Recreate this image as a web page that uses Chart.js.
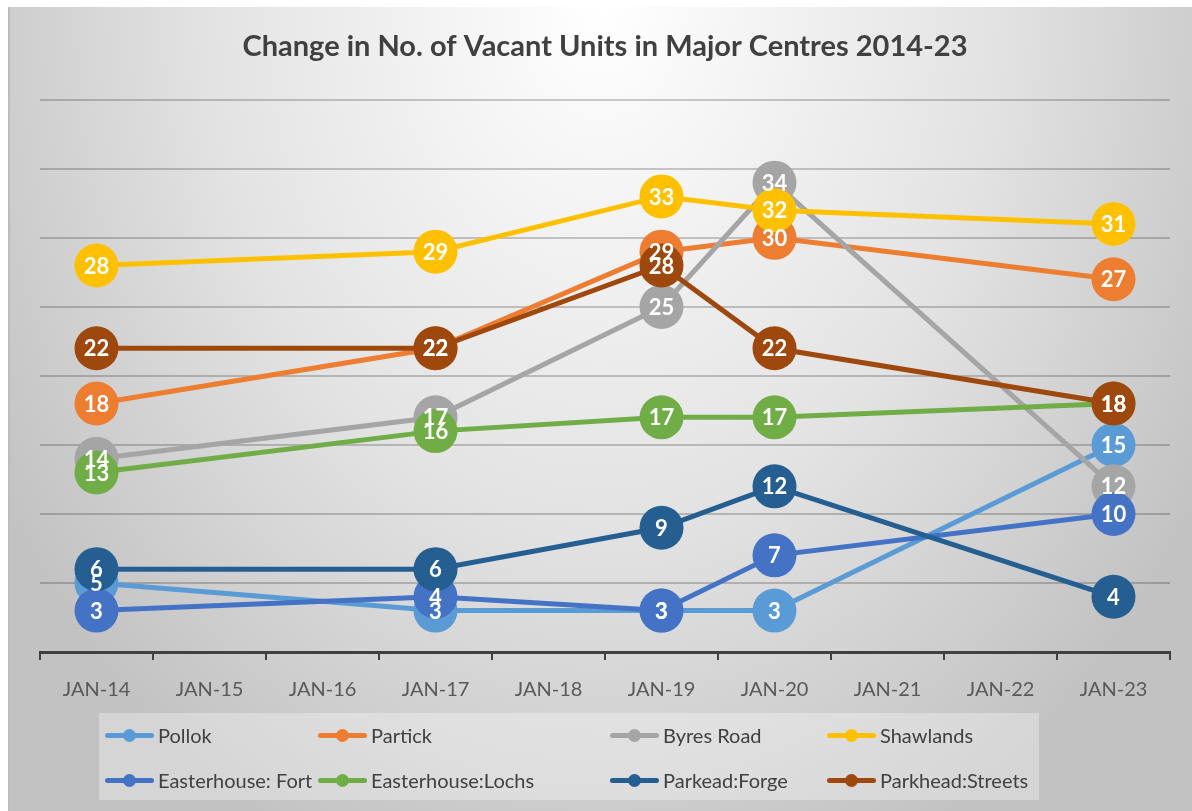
<!DOCTYPE html>
<html>
<head>
<meta charset="utf-8">
<script src="https://cdn.jsdelivr.net/npm/chart.js@4.4.0/dist/chart.umd.min.js"></script>
<style>
  html, body { margin: 0; padding: 0; background: #fff; width: 1192px; height: 811px; overflow: hidden; }
  #frame {
    position: absolute; left: 8px; top: 7px; width: 1182px; height: 810px;
    border-left: 2px solid #bdbdbd;
    background: radial-gradient(ellipse 60% 115% at 50% 0%, #ffffff 0%, #e3e3e3 55%, #c2c2c2 100%);
  }
  #wrap { position: absolute; left: 0; top: 0; width: 1184px; height: 713px; }
  #legend {
    position: absolute; left: 89px; top: 706px; width: 940px; height: 87px;
    background: rgba(255,255,255,0.32);
    font-family: Lato, "Open Sans", sans-serif; font-size: 20px; color: #404040;
  }
  .item { position: absolute; display: flex; align-items: center; white-space: nowrap; }
  .mark { position: relative; width: 49px; height: 5px; border-radius: 3px; margin-right: 4px; }
  .mark i { position: absolute; left: 18px; top: -4px; width: 13px; height: 13px; border-radius: 50%; background: inherit; }
</style>
</head>
<body>
<div id="frame">
  <div id="wrap"><canvas id="chart"></canvas></div>
  <div id="legend"></div>
</div>
<script>
// categories and values (null = no survey that year)
const years = ['JAN-14', 'JAN-15', 'JAN-16', 'JAN-17', 'JAN-18', 'JAN-19', 'JAN-20', 'JAN-21', 'JAN-22', 'JAN-23'];
const pollok          = [5, null, null, 3, null, 3, 3, null, null, 15];
const partick         = [18, null, null, 22, null, 29, 30, null, null, 27];
const byresRoad       = [14, null, null, 17, null, 25, 34, null, null, 12];
const shawlands       = [28, null, null, 29, null, 33, 32, null, null, 31];
const easterhouseFort = [3, null, null, 4, null, 3, 7, null, null, 10];
const easterhouseLoch = [13, null, null, 16, null, 17, 17, null, null, 18];
const parkheadForge   = [6, null, null, 6, null, 9, 12, null, null, 4];
const parkheadStreets = [22, null, null, 22, null, 28, 22, null, null, 18];

const seriesNames  = ['Pollok', 'Partick', 'Byres Road', 'Shawlands', 'Easterhouse: Fort', 'Easterhouse:Lochs', 'Parkead:Forge', 'Parkhead:Streets'];
const seriesValues = [pollok, partick, byresRoad, shawlands, easterhouseFort, easterhouseLoch, parkheadForge, parkheadStreets];
const seriesColors = ['#5B9BD5', '#ED7D31', '#A5A5A5', '#FFC000', '#4472C4', '#70AD47', '#255E91', '#9E480E'];

const datasets = seriesNames.map((name, i) => ({
  label: name,
  data: seriesValues[i],
  borderColor: seriesColors[i],
  backgroundColor: seriesColors[i],
  borderWidth: 5,
  pointRadius: 22,
  pointHoverRadius: 22,
  pointBorderWidth: 0,
  spanGaps: true,
  clip: false,
  order: seriesNames.length - i   // later series drawn on top, like Excel
}));

// white value labels inside each marker, drawn after all markers
const valueLabels = {
  id: 'valueLabels',
  afterDatasetsDraw(chart) {
    const ctx = chart.ctx;
    ctx.save();
    ctx.fillStyle = '#fff';
    ctx.font = 'bold 22px Lato, "Open Sans", sans-serif';
    ctx.textAlign = 'center';
    ctx.textBaseline = 'middle';
    chart.data.datasets.forEach((ds, i) => {
      const meta = chart.getDatasetMeta(i);
      meta.data.forEach((pt, j) => {
        if (ds.data[j] == null) return;
        ctx.fillText(String(ds.data[j]), pt.x, pt.y + 1);
      });
    });
    ctx.restore();
  }
};

new Chart(document.getElementById('chart'), {
  type: 'line',
  data: { labels: years, datasets: datasets },
  plugins: [valueLabels],
  options: {
    responsive: true,
    maintainAspectRatio: false,
    animation: false,
    events: [],
    layout: { padding: { left: 30, right: 24, top: 0, bottom: 0 } },
    plugins: {
      legend: { display: false },
      tooltip: { enabled: false },
      title: {
        display: true,
        text: 'Change in No. of Vacant Units in Major Centres 2014-23',
        color: '#404040',
        font: { family: 'Lato, "Open Sans", sans-serif', size: 29, weight: 'bold' },
        padding: { top: 22, bottom: 36 }
      }
    },
    scales: {
      x: {
        offset: true,
        grid: { display: true, offset: true, drawOnChartArea: false, drawTicks: true, tickLength: 8, color: '#404040', lineWidth: 2 },
        border: { display: true, color: '#404040', width: 3 },
        ticks: { color: '#595959', padding: 18, font: { family: 'Lato, "Open Sans", sans-serif', size: 20 } }
      },
      y: {
        min: 0,
        max: 40,
        ticks: { display: false, stepSize: 5 },
        grid: { color: 'rgba(0,0,0,0.2)', lineWidth: 2, drawTicks: false, tickLength: 0 },
        border: { display: false }
      }
    }
  }
});

// legend laid out in Excel-style columns
const legendCols = [6, 219, 511, 728];
const legendRows = [22, 67];
const legendBox = document.getElementById('legend');
seriesNames.forEach((name, i) => {
  const el = document.createElement('div');
  el.className = 'item';
  el.style.left = legendCols[i % 4] + 'px';
  el.style.top = (legendRows[Math.floor(i / 4)] - 13) + 'px';
  el.style.height = '26px';
  el.innerHTML = '<span class="mark" style="background:' + seriesColors[i] + '"><i></i></span><span>' + name + '</span>';
  legendBox.appendChild(el);
});
</script>
</body>
</html>
